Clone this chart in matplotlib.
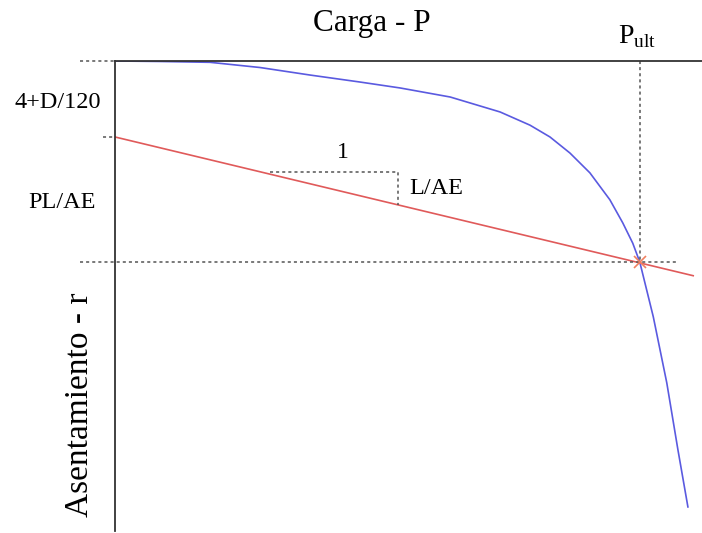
import matplotlib.pyplot as plt

plt.rcParams['font.family'] = ['Liberation Serif', 'DejaVu Serif']

# curva carga - asentamiento (P en % del eje, r en % del eje, hacia abajo)
P_curve = [0, 7.67, 16.2, 24.7, 33.2, 41.7, 48.6, 57.1, 65.6, 70.7, 74.1, 77.5, 80.9,
           84.3, 86.5, 88.2, 89.4, 91.7, 94.0, 95.9, 97.6]
r_curve = [0, 0.1, 0.28, 1.38, 2.97, 4.45, 5.72, 7.63, 10.8, 13.6, 16.1, 19.5, 23.7,
           29.4, 34.3, 38.6, 42.6, 54.2, 68.2, 82.4, 94.5]

# recta elastica PL/AE + (4 + D/120)
P_line = [0, 98.5]
r_line = [16.1, 45.5]

P_ult = 89.4
r_ult = 42.6
r_off = 16.1

# triangulo de pendiente
tri_x = [26.4, 48.2, 48.2]
tri_y = [23.5, 23.5, 30.5]

fig = plt.figure(figsize=(7.02, 5.33), dpi=100)
ax = fig.add_axes([115/702, 2/533, 587/702, 470/533])
ax.set_xlim(0, 100)
ax.set_ylim(99.6, 0)

ax.plot(P_curve, r_curve, color='#5a5ae0', lw=1.2, solid_joinstyle='round')
ax.plot(P_line, r_line, color='#e05a5a', lw=1.2)

dash = dict(color='#555555', lw=1.1, ls=(0, (2, 2)), clip_on=False)
ax.plot([-6, 0], [0, 0], **dash)
ax.plot([-2, 0], [r_off, r_off], **dash)
ax.plot([-6, 95.7], [r_ult, r_ult], **dash)
ax.plot([P_ult, P_ult], [0, r_ult], **dash)
ax.plot(tri_x, tri_y, **dash)

ax.plot([P_ult], [r_ult], marker='x', ms=9, mew=1.2, color='#f08060')

for s in ['bottom', 'right']:
    ax.spines[s].set_visible(False)
for s in ['top', 'left']:
    ax.spines[s].set_color('#333333')
    ax.spines[s].set_linewidth(1.3)
ax.set_xticks([])
ax.set_yticks([])

def ftext(x, y, s, **kw):
    fig.text(x/702, 1 - y/533, s, **kw)

ftext(372, 24, 'Carga - P', fontsize=22.5, ha='center', va='center')
ftext(637, 37, r'P$_{\mathregular{ult}}$', fontsize=20, ha='center', va='center')
ftext(58, 103, '4+D/120', fontsize=17.5, ha='center', va='center')
ftext(62, 202, 'PL/AE', fontsize=17.5, ha='center', va='center')
ftext(343, 153, '1', fontsize=17, ha='center', va='center')
ftext(409, 189, 'L/AE', fontsize=17.5, ha='left', va='center')
ftext(80, 405, 'Asentamiento - r', fontsize=24, ha='center', va='center', rotation=90)

fig.savefig('out.png')
